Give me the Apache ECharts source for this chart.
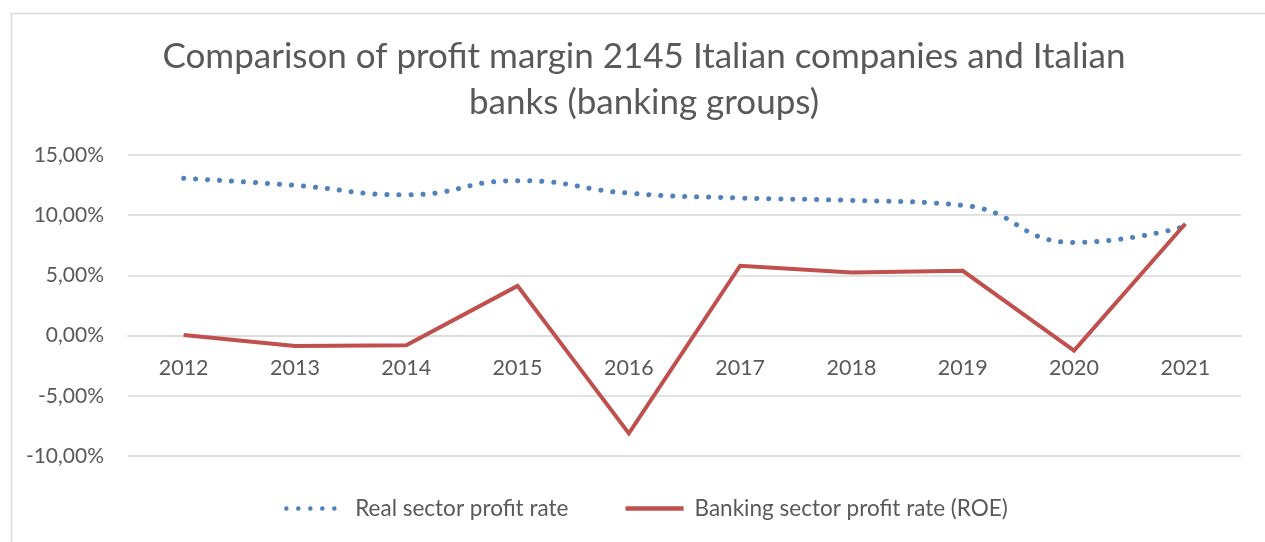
<!DOCTYPE html>
<html><head><meta charset="utf-8">
<script src="https://cdn.jsdelivr.net/npm/echarts@6/dist/echarts.min.js"></script>
<style>html,body{margin:0;padding:0;background:#fff}#c{width:1265px;height:542px}</style>
</head><body><div id="c"></div>
<script>
const years = ['2012','2013','2014','2015','2016','2017','2018','2019','2020','2021'];
const realSector = [13.06, 12.48, 11.69, 12.87, 11.83, 11.43, 11.23, 10.82, 7.74, 9.07];
const bankingSector = [0.05, -0.86, -0.80, 4.13, -8.12, 5.80, 5.24, 5.38, -1.25, 9.29];
const seriesNames = ['Real sector profit rate', 'Banking sector profit rate (ROE)'];
const titleText = 'Comparison of profit margin 2145 Italian companies and Italian\nbanks (banking groups)';

const FONT = 'Lato';
const GREY = '#595959';
const chart = echarts.init(document.getElementById('c'), null, {renderer: 'canvas'});
chart.setOption({
  animation: false,
  backgroundColor: '#fff',
  graphic: [{
    type: 'rect', left: 9, top: 11, silent: true,
    shape: {x: 0, y: 0, width: 1280, height: 560},
    style: {fill: 'none', stroke: '#d9d9d9', lineWidth: 1.5}
  }],
  title: {
    text: titleText,
    left: 639, top: 29, textAlign: 'center',
    textStyle: {fontFamily: FONT, fontSize: 35, fontWeight: 'normal', color: GREY, lineHeight: 46}
  },
  grid: {left: 128, right: 24, top: 155, bottom: 86, containLabel: false},
  legend: {
    bottom: 17, left: 279,
    itemWidth: 58, itemHeight: 14, itemGap: 55,
    itemStyle: {opacity: 0},
    lineStyle: {width: 4.5},
    textStyle: {fontFamily: FONT, fontSize: 22.5, color: GREY, padding: [0,0,0,6]},
    data: seriesNames
  },
  xAxis: {
    type: 'category', data: years, boundaryGap: true,
    position: 'bottom', offset: -120.2,
    axisLine: {onZero: false, lineStyle: {color: '#d9d9d9', width: 1.5}},
    axisTick: {show: false},
    axisLabel: {fontFamily: FONT, fontSize: 21.5, color: GREY, margin: 21},
    splitLine: {show: false}
  },
  yAxis: {
    type: 'value', min: -10, max: 15, interval: 5,
    axisLine: {show: false}, axisTick: {show: false},
    axisLabel: {fontFamily: FONT, fontSize: 21, color: GREY, margin: 24,
      formatter: v => v.toFixed(2).replace('.', ',') + '%'},
    splitLine: {lineStyle: {color: '#d9d9d9', width: 1.5}}
  },
  series: [{
    name: seriesNames[0], type: 'line', data: realSector,
    smooth: 0.5, symbol: 'none',
    lineStyle: {color: '#4F81BD', width: 5, type: [0.1, 11.9], cap: 'round'},
    itemStyle: {color: '#4F81BD'}
  }, {
    name: seriesNames[1], type: 'line', data: bankingSector,
    smooth: false, symbol: 'none',
    lineStyle: {color: '#C0504D', width: 4, cap: 'butt', join: 'miter'},
    itemStyle: {color: '#C0504D'}
  }]
});
</script></body></html>
